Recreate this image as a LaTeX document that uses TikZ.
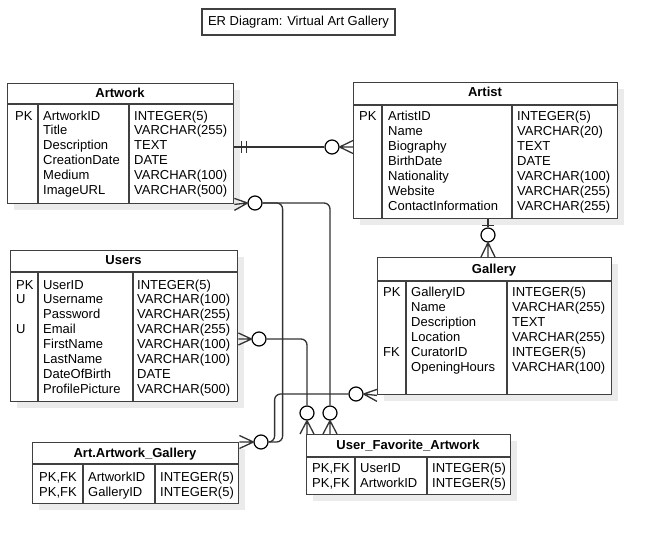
\documentclass[tikz,border=0pt]{standalone}
\usepackage{fontspec}
\setmainfont{Liberation Sans}
\usetikzlibrary{calc,shadows}

\tikzset{
  entbox/.style={draw=black!75, line width=1.4pt, fill=white, anchor=north west, inner sep=0pt,
    drop shadow={shadow xshift=6pt, shadow yshift=-6pt, draw=none, fill=black!8, opacity=1}},
  rule/.style={draw=black!75, line width=1.4pt},
  head/.style={font=\fontsize{13}{15}\selectfont\bfseries, anchor=base, inner sep=0pt},
  cell/.style={font=\fontsize{13}{15}\selectfont, anchor=base west, inner sep=0pt},
  conn/.style={draw=black!80, line width=1.3pt},
  zcirc/.style={circle, draw=black, line width=1.2pt, fill=white, minimum size=14pt, inner sep=0pt},
}

\begin{document}
\begin{tikzpicture}[x=1pt, y=-1pt]
  \fill[white] (0,0) rectangle (656,543);
  \useasboundingbox (0,0) rectangle (656,543);

  \node[draw=black!75, line width=1.2pt, fill=white, minimum width=193pt, minimum height=26pt,
    inner sep=0pt, font=\fontsize{13}{15}\selectfont] (title) at (298.5,22) {ER Diagram: Virtual Art Gallery};

  % Artwork
  \node[entbox, minimum width=226pt, minimum height=120pt] (artwork) at (7,83) {};
  \draw[rule] (7,104) -- (233,104) (38,104) -- (38,203) (129,104) -- (129,203);
  \node[head] (artwork-t) at (120,97) {Artwork};
  \node[cell] (artwork-k) at (15,120) {PK};
  \foreach \fld [count=\i from 0] in {ArtworkID,Title,Description,CreationDate,Medium,ImageURL}
    \node[cell] (artwork-f\i) at (43,120+14.9*\i) {\fld};
  \foreach \typ [count=\i from 0] in {INTEGER(5),VARCHAR(255),TEXT,DATE,VARCHAR(100),VARCHAR(500)}
    \node[cell] (artwork-d\i) at (134,120+14.9*\i) {\typ};

  % Artist
  \node[entbox, minimum width=264pt, minimum height=136pt] (artist) at (353,82) {};
  \draw[rule] (353,105) -- (617,105) (382,105) -- (382,218) (512,105) -- (512,218);
  \node[head] (artist-t) at (485,96.5) {Artist};
  \node[cell] (artist-k) at (359,120) {PK};
  \foreach \fld [count=\i from 0] in {ArtistID,Name,Biography,BirthDate,Nationality,Website,ContactInformation}
    \node[cell] (artist-f\i) at (388,120+15*\i) {\fld};
  \foreach \typ [count=\i from 0] in {INTEGER(5),VARCHAR(20),TEXT,DATE,VARCHAR(100),VARCHAR(255),VARCHAR(255)}
    \node[cell] (artist-d\i) at (517,120+15*\i) {\typ};

  % Users
  \node[entbox, minimum width=227pt, minimum height=151pt] (users) at (10,250) {};
  \draw[rule] (10,272) -- (237,272) (38,272) -- (38,401) (133,272) -- (133,401);
  \node[head] (users-t) at (123.5,264.5) {Users};
  \node[cell] (users-k0) at (16,289) {PK};
  \node[cell] (users-k1) at (16,303.9) {U};
  \node[cell] (users-k3) at (16,333.7) {U};
  \foreach \fld [count=\i from 0] in {UserID,Username,Password,Email,FirstName,LastName,DateOfBirth,ProfilePicture}
    \node[cell] (users-f\i) at (43,289+14.9*\i) {\fld};
  \foreach \typ [count=\i from 0] in {INTEGER(5),VARCHAR(100),VARCHAR(255),VARCHAR(255),VARCHAR(100),VARCHAR(100),DATE,VARCHAR(500)}
    \node[cell] (users-d\i) at (137,289+14.9*\i) {\typ};

  % Gallery
  \node[entbox, minimum width=234pt, minimum height=137pt] (gallery) at (377,257) {};
  \draw[rule] (377,281) -- (611,281) (406,281) -- (406,394) (507,281) -- (507,394);
  \node[head] (gallery-t) at (494,273) {Gallery};
  \node[cell] (gallery-k0) at (383,296) {PK};
  \node[cell] (gallery-k4) at (383,356) {FK};
  \foreach \fld [count=\i from 0] in {GalleryID,Name,Description,Location,CuratorID,OpeningHours}
    \node[cell] (gallery-f\i) at (411,296+15*\i) {\fld};
  \foreach \typ [count=\i from 0] in {INTEGER(5),VARCHAR(255),TEXT,VARCHAR(255),INTEGER(5),VARCHAR(100)}
    \node[cell] (gallery-d\i) at (512,296+15*\i) {\typ};

  % Art.Artwork_Gallery
  \node[entbox, minimum width=206pt, minimum height=61pt] (aag) at (32,442) {};
  \draw[rule] (32,464) -- (238,464) (83,464) -- (83,503) (155,464) -- (155,503);
  \node[head] (aag-t) at (135,457) {Art.Artwork\_Gallery};
  \foreach \fld/\typ [count=\i from 0] in {ArtworkID/INTEGER(5),GalleryID/INTEGER(5)} {
    \node[cell] (aag-k\i) at (39,481+15*\i) {PK,FK};
    \node[cell] (aag-f\i) at (88,481+15*\i) {\fld};
    \node[cell] (aag-d\i) at (160,481+15*\i) {\typ};
  }

  % User_Favorite_Artwork
  \node[entbox, minimum width=204pt, minimum height=60pt] (ufa) at (306,434) {};
  \draw[rule] (306,457) -- (510,457) (355,457) -- (355,494) (427,457) -- (427,494);
  \node[head] (ufa-t) at (408,449.5) {User\_Favorite\_Artwork};
  \foreach \fld/\typ [count=\i from 0] in {UserID/INTEGER(5),ArtworkID/INTEGER(5)} {
    \node[cell] (ufa-k\i) at (312,472.7+15*\i) {PK,FK};
    \node[cell] (ufa-f\i) at (360,472.7+15*\i) {\fld};
    \node[cell] (ufa-d\i) at (432,472.7+15*\i) {\typ};
  }

  % relationships
  \node[zcirc] (c1) at (332,147) {};
  \node[zcirc] (c2) at (255,203) {};
  \node[zcirc] (c3) at (259,339) {};
  \node[zcirc] (c4) at (356,394) {};
  \node[zcirc] (c5) at (261,442) {};
  \node[zcirc] (c6) at (307,413) {};
  \node[zcirc] (c7) at (330,413) {};
  \node[zcirc] (c8) at (488,235) {};

  % Artwork -- Artist
  \draw[conn] (artwork.east |- c1) -- (c1.west);
  \draw[conn] ($(artwork.east |- c1)+(7,-6)$) -- +(0,12);
  \draw[conn] ($(artwork.east |- c1)+(12,-6)$) -- +(0,12);
  \draw[conn] (c1.east) -- (artist.west |- c1)
    (c1.east) -- ($(artist.west |- c1)+(0,-6.5)$)
    (c1.east) -- ($(artist.west |- c1)+(0,6.5)$);

  % Artwork -- Art.Artwork_Gallery, User_Favorite_Artwork
  \draw[conn] (c2.west) -- (artwork.south east)
    (c2.west) -- ($(artwork.south east)+(0,-6)$)
    (c2.west) -- ($(artwork.south east)+(0,6)$);
  \draw[conn, rounded corners=6pt] (c2.east) -| ([xshift=14pt]c5.east) -- (c5.east);
  \draw[conn, rounded corners=6pt] (c2.east) -| (c7.north);

  % Users -- User_Favorite_Artwork
  \draw[conn] (c3.west) -- (users.east |- c3)
    (c3.west) -- ($(users.east |- c3)+(0,-6)$)
    (c3.west) -- ($(users.east |- c3)+(0,6)$);
  \draw[conn, rounded corners=6pt] (c3.east) -| (c6.north);
  \foreach \c in {c6,c7}
    \draw[conn] (\c.south) -- (ufa.north -| \c)
      (\c.south) -- ($(ufa.north -| \c)+(-7,0)$)
      (\c.south) -- ($(ufa.north -| \c)+(7,0)$);

  % Gallery -- Art.Artwork_Gallery
  \draw[conn] (c4.east) -- (gallery.south west)
    (c4.east) -- ($(gallery.south west)+(0,-6)$)
    (c4.east) -- ($(gallery.south west)+(0,6)$);
  \draw[conn, rounded corners=6pt] (c4.west) -| ([xshift=6pt]c5.east) -- (c5.east);
  \draw[conn] (c5.west) -- (aag.north east)
    (c5.west) -- ($(aag.north east)+(0,-6.5)$)
    (c5.west) -- ($(aag.north east)+(0,6.5)$);

  % Artist -- Gallery
  \draw[conn] (artist.south -| c8) -- (c8.north);
  \draw[conn] ($(artist.south -| c8)+(-6,6)$) -- +(12,0);
  \draw[conn] (c8.south) -- (gallery.north -| c8)
    (c8.south) -- ($(gallery.north -| c8)+(-7,0)$)
    (c8.south) -- ($(gallery.north -| c8)+(7,0)$);
\end{tikzpicture}
\end{document}
